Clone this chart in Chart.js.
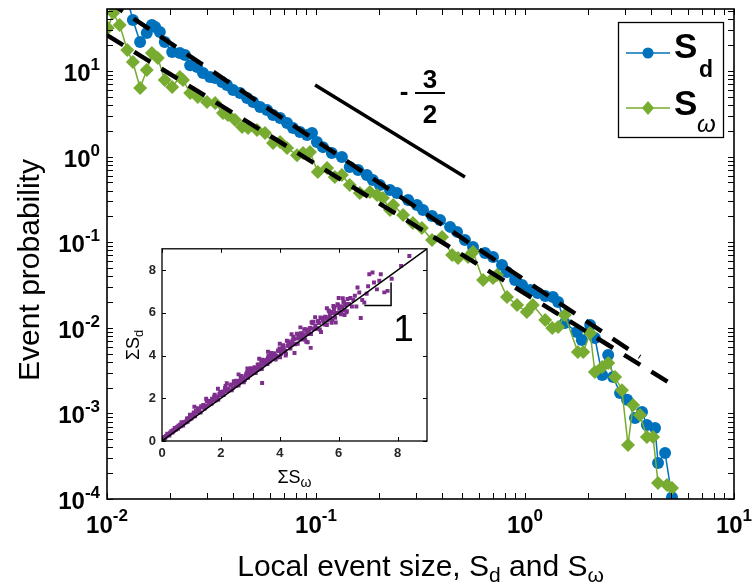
<!DOCTYPE html>
<html>
<head>
<meta charset="utf-8">
<script src="https://cdn.jsdelivr.net/npm/chart.js@4.4.1/dist/chart.umd.min.js"></script>
<style>
  html, body { margin: 0; padding: 0; background: #fff; }
  #wrap { position: relative; width: 754px; height: 586px; }
  #main { position: absolute; left: 0; top: 0; }
  #inset { position: absolute; left: 120px; top: 235px; }
</style>
</head>
<body>
<div id="wrap">
  <canvas id="main" width="754" height="586"></canvas>
  <canvas id="inset" width="320" height="265"></canvas>
</div>
<script>
// S_d (blue circles)
const sdX = [0.0122, 0.0133, 0.0144, 0.0155, 0.0164, 0.0170, 0.0179, 0.0189, 0.0205, 0.0223,
  0.0236, 0.0250, 0.0270, 0.0288, 0.0311, 0.0329, 0.0355, 0.0375, 0.0401, 0.0433,
  0.0468, 0.0500, 0.0540, 0.0583, 0.0623, 0.0673, 0.0727, 0.0776, 0.0838, 0.0906,
  0.0957, 0.101, 0.108, 0.119, 0.133, 0.145, 0.159, 0.175, 0.187, 0.202,
  0.226, 0.244, 0.276, 0.304, 0.325, 0.359, 0.392, 0.438, 0.473, 0.516,
  0.564, 0.644, 0.703, 0.776, 0.820, 0.896, 0.968, 1.06, 1.15, 1.25,
  1.36, 1.44, 1.55, 1.77, 1.87, 2.05, 2.16, 2.34, 2.50, 2.64,
  2.85, 3.08, 3.36, 3.63, 3.83, 4.19, 4.33, 4.68, 5.05];
const sdY = [88, 39.4, 21.8, 27.8, 34.4, 32.7, 28.6, 21.8, 16.7, 16.2,
  15.4, 11.7, 11.1, 9.48, 8.51, 8.28, 7.43, 6.86, 6.0, 5.53,
  4.84, 4.34, 3.80, 3.50, 3.06, 2.82, 2.47, 2.16, 1.94, 1.79,
  1.89, 1.48, 1.29, 1.10, 0.989, 0.757, 0.697, 0.610, 0.533, 0.466,
  0.407, 0.376, 0.311, 0.272, 0.238, 0.202, 0.182, 0.151, 0.132, 0.106,
  0.0879, 0.0748, 0.0671, 0.0542, 0.0449, 0.0361, 0.0316, 0.0277, 0.0255, 0.0235,
  0.0229, 0.0200, 0.0114, 0.00893, 0.00719, 0.0108, 0.0076, 0.00281, 0.00481, 0.00266,
  0.00173, 0.00144, 0.000883, 0.00104, 0.000731, 0.000674, 0.000264, 0.000344, 0.000105];

// S_w (green diamonds)
const swX = [0.0101, 0.0107, 0.0115, 0.0125, 0.0133, 0.0144, 0.0155, 0.0164, 0.0175, 0.0189,
  0.0205, 0.0223, 0.0231, 0.0250, 0.0272, 0.0301, 0.0329, 0.0359, 0.0379, 0.0410,
  0.0443, 0.0473, 0.0522, 0.0570, 0.0623, 0.0673, 0.0727, 0.0811, 0.0867, 0.0936,
  0.102, 0.113, 0.123, 0.133, 0.145, 0.162, 0.181, 0.196, 0.209, 0.226,
  0.234, 0.261, 0.291, 0.321, 0.359, 0.401, 0.448, 0.478, 0.534, 0.564,
  0.630, 0.703, 0.735, 0.820, 0.916, 1.02, 1.09, 1.25, 1.35, 1.44,
  1.55, 1.79, 1.90, 2.05, 2.16, 2.34, 2.50, 2.70, 2.91, 3.11,
  3.29, 3.55, 3.83, 4.10, 4.33, 4.78, 5.05];
const swY = [31.8, 47.6, 34.4, 17.6, 12.7, 6.32, 10.3, 16.2, 14.2, 7.85,
  6.50, 8.51, 7.85, 5.53, 4.97, 4.34, 4.23, 3.23, 3.06, 2.68,
  2.22, 2.16, 2.05, 1.89, 1.44, 1.48, 1.26, 1.04, 1.10, 1.13,
  0.661, 0.736, 0.578, 0.610, 0.466, 0.376, 0.385, 0.356, 0.328, 0.238,
  0.272, 0.208, 0.168, 0.147, 0.106, 0.115, 0.0708, 0.0653, 0.0671, 0.0769,
  0.0361, 0.0382, 0.0414, 0.0229, 0.0185, 0.0153, 0.0185, 0.0123, 0.00995, 0.0102,
  0.0141, 0.00521, 0.0052, 0.00869, 0.00305, 0.00348, 0.00388, 0.00266, 0.00187, 0.000428,
  0.00125, 0.000957, 0.000530, 0.000530, 0.000154, 0.000146, 0.000134];

// power-law guide lines
const fitSdX = [0.01, 3.55];
const fitSdY = [66, 0.00456];
const fitSwX = [0.01, 4.83];
const fitSwY = [26.3, 0.00233];
const slopeX = [0.099, 0.516];
const slopeY = [6.86, 0.578];

// axes ticks
const xTickVals = [0.01, 0.1, 1, 10];
const xTickExp = ["-2", "-1", "0", "1"];
const yTickVals = [1e-4, 1e-3, 1e-2, 1e-1, 1, 10];
const yTickExp = ["-4", "-3", "-2", "-1", "0", "1"];

// inset: sum S_w vs sum S_d
const sumSw = [
  0.03, 0.07, 0.10, 0.14, 0.18, 0.21, 0.25, 0.29, 0.32, 0.36, 0.40, 0.43, 0.47, 0.50, 0.54, 0.58, 0.61, 0.65, 0.69, 0.72,
  0.76, 0.80, 0.83, 0.87, 0.90, 0.94, 0.97, 1.00,
  1.03, 1.08, 1.12, 1.17, 1.22, 1.26, 1.31, 1.35, 1.40, 1.45, 1.49, 1.54, 1.58, 1.63, 1.68, 1.72, 1.77, 1.81, 1.86, 1.91,
  1.95, 2.00, 2.04, 2.09, 2.14, 2.18, 2.23, 2.27, 2.32, 2.37, 2.41, 2.46,
  2.50, 2.55, 2.60, 2.64, 2.69, 2.74, 2.78, 2.83, 2.88, 2.92, 2.97, 3.02, 3.06, 3.11, 3.16, 3.20, 3.25, 3.30, 3.34, 3.39,
  3.44, 3.48, 3.53, 3.58, 3.62, 3.67, 3.72, 3.76, 3.81, 3.86,
  2.52, 2.62, 2.71, 2.81, 2.90, 3.00, 3.09, 3.18, 3.28, 3.37, 3.46, 3.56, 3.65, 3.74, 3.84, 3.93, 3.40,
  3.91, 3.96, 4.01, 4.06, 4.11, 4.16, 4.21, 4.26, 4.31, 4.36, 4.41, 4.46, 4.51, 4.56, 4.61, 4.66, 4.71, 4.76, 4.81, 4.86,
  4.91, 4.96, 5.01, 5.06, 5.11, 5.16, 5.21, 5.26, 5.31, 5.36,
  3.94, 4.04, 4.13, 4.24, 4.33, 4.43, 4.53, 4.63, 4.73, 4.83, 4.93, 5.03, 5.13, 5.23, 5.33, 5.43, 5.48, 5.05, 4.95, 4.50,
  5.52, 5.56, 5.60, 5.64, 5.68, 5.72, 5.76, 5.80, 5.84, 5.88, 5.92, 5.96, 6.00, 6.04, 6.08, 6.12, 6.16, 6.20, 6.24, 6.28,
  5.54, 5.62, 5.70, 5.78, 5.86, 5.94, 6.02, 6.10, 6.18, 6.26, 6.30, 6.35, 6.40, 6.45, 6.50,
  6.55, 6.60, 6.64, 6.70, 6.75, 6.80, 6.87, 6.95, 7.00, 7.04, 7.15, 7.20, 7.30, 7.38, 7.43, 7.55, 7.66, 7.80, 8.12, 8.40,
  0.56, 0.66, 0.74, 0.85, 0.95, 1.06, 1.15, 1.24, 1.33, 1.43, 1.52, 1.61, 1.70, 1.79, 1.89, 1.98, 2.07, 2.16, 2.25, 2.35,
  2.44, 2.54, 2.67, 2.76, 2.86, 2.95, 3.04, 3.14, 3.23, 3.32, 3.42, 3.51, 3.60, 3.70, 3.79, 3.89, 3.99, 4.08, 4.18, 4.28,
  4.38, 4.48, 4.58, 4.68, 4.78, 4.88, 4.98, 5.08, 5.18, 5.28, 5.38, 5.46, 5.58, 5.66, 5.74, 5.82, 5.90, 5.98, 6.06, 6.14,
  6.22, 0.05, 0.12, 0.16, 0.23, 0.27, 0.34, 0.38, 0.45, 0.52,
  1.10, 1.50, 1.90, 2.20, 2.60, 2.90, 3.30, 3.60, 4.00, 4.40, 4.70, 5.20, 5.60, 6.00,
  4.20, 4.90, 5.40, 5.90, 6.20];
const sumSd = [
  0.08, 0.19, 0.12, 0.23, 0.34, 0.28, 0.26, 0.40, 0.46, 0.40, 0.48, 0.61, 0.53, 0.62, 0.57, 0.68, 0.76, 0.69, 0.78, 0.73,
  0.89, 0.87, 0.94, 0.90, 1.07, 1.02, 1.07, 1.05,
  1.13, 1.33, 1.16, 1.35, 1.54, 1.40, 1.33, 1.57, 1.69, 1.52, 1.65, 1.89, 1.70, 1.87, 1.74, 1.92, 2.07, 1.90, 2.04, 1.93,
  2.21, 2.14, 2.26, 2.15, 2.48, 2.33, 2.44, 2.37, 2.60, 2.38, 2.51, 2.71,
  2.57, 2.81, 2.60, 2.81, 3.04, 2.87, 2.75, 3.05, 3.19, 2.96, 3.12, 3.41, 3.16, 3.36, 3.18, 3.40, 3.58, 3.36, 3.52, 3.37,
  3.72, 3.60, 3.76, 3.61, 3.99, 3.81, 3.93, 3.84, 4.11, 3.82,
  2.82, 2.72, 2.95, 2.86, 3.23, 3.16, 3.36, 3.18, 3.48, 3.73, 3.57, 3.81, 3.72, 4.05, 4.02, 3.95, 2.72,
  3.92, 4.21, 3.92, 4.20, 4.48, 4.24, 4.09, 4.46, 4.63, 4.33, 4.52, 4.88, 4.56, 4.80, 4.55, 4.84, 5.05, 4.75, 4.96, 4.75,
  5.19, 5.03, 5.22, 5.01, 5.51, 5.26, 5.40, 5.28, 5.62, 5.22,
  4.24, 4.09, 4.35, 4.69, 4.45, 4.71, 4.53, 4.98, 4.88, 5.23, 5.01, 5.29, 5.59, 5.26, 5.53, 5.76, 5.58, 4.36, 4.62, 4.12,
  5.46, 5.81, 5.43, 5.74, 6.07, 5.76, 5.54, 5.98, 6.17, 5.77, 5.99, 6.41, 5.99, 6.27, 5.94, 6.27, 6.52, 6.13, 6.36, 6.08,
  5.82, 5.64, 5.90, 5.66, 6.28, 5.99, 6.19, 6.06, 6.49, 6.03, 6.65, 6.42, 6.70, 6.30, 6.60,
  6.80, 6.30, 7.19, 6.95, 5.76, 6.60, 6.49, 6.90, 7.25, 7.81, 7.89, 7.42, 7.10, 7.50, 7.81, 6.96, 7.03, 7.60, 8.20, 8.66,
  0.71, 0.88, 0.84, 1.05, 1.23, 1.24, 1.40, 1.36, 1.63, 1.65, 1.87, 1.77, 1.98, 2.17, 2.09, 2.30, 2.32, 2.58, 2.43, 2.65,
  2.80, 2.76, 3.00, 2.91, 3.13, 3.35, 3.24, 3.45, 3.35, 3.58, 3.80, 3.69, 3.90, 4.12, 4.01, 3.99, 4.33, 4.33, 4.23, 4.66,
  4.56, 4.78, 5.02, 4.80, 5.05, 5.23, 5.18, 5.56, 5.26, 5.60, 5.78, 5.68, 5.73, 6.11, 6.04, 6.32, 6.00, 6.36, 6.31, 6.69,
  6.42, 0.12, 0.17, 0.25, 0.29, 0.36, 0.44, 0.50, 0.55, 0.66,
  1.60, 1.98, 2.45, 2.70, 3.12, 3.40, 3.85, 4.18, 4.55, 5.00, 5.32, 5.80, 6.22, 6.70,
  4.00, 4.65, 5.10, 5.55, 5.90];
const unitX = [0, 9];
const unitY = [0, 9];
const triX = [6.87, 7.78, 7.78];
const triY = [6.34, 6.34, 7.42];
const insetTicks = [0, 2, 4, 6, 8];

const BLUE = "#0072BD";
const GREEN = "#77AC30";
const PURPLE = "#7E2F8E";
const FONT = '"Liberation Sans", Arial, Helvetica, sans-serif';

const pts = (xs, ys) => xs.map((x, i) => ({ x: x, y: ys[i] }));

function fontStr(p) {
  return (p.italic ? "italic " : "") + (p.bold ? "bold " : "") + p.size + "px " + FONT;
}

// draw text made of pieces (for super/subscripts)
function drawRich(ctx, parts, x, y, align) {
  let w = 0;
  parts.forEach(p => { ctx.font = fontStr(p); p.w = ctx.measureText(p.t).width; w += p.w; });
  let cx = align === "center" ? x - w / 2 : align === "right" ? x - w : x;
  ctx.textAlign = "left";
  ctx.textBaseline = "alphabetic";
  parts.forEach(p => {
    ctx.font = fontStr(p);
    ctx.fillText(p.t, cx, y + (p.dy || 0));
    cx += p.w;
  });
}

function logSteps(min, max) {
  const out = [];
  for (let e = Math.floor(Math.log10(min)); e <= Math.ceil(Math.log10(max)); e++) {
    for (let k = 1; k < 10; k++) {
      const v = k * Math.pow(10, e);
      if (v >= min * 0.999 && v <= max * 1.001) out.push(v);
    }
  }
  return out;
}

const mainDecor = {
  id: "mainDecor",
  afterDraw(chart) {
    const ctx = chart.ctx;
    const a = chart.chartArea;
    const xs = chart.scales.x, ys = chart.scales.y;
    const TL = 6;
    ctx.save();
    ctx.fillStyle = "#000";
    ctx.strokeStyle = "#000";

    // ticks pointing inwards, all four sides
    ctx.lineWidth = 1;
    ctx.beginPath();
    logSteps(xs.min, xs.max).forEach(v => {
      const px = Math.round(xs.getPixelForValue(v)) + 0.5;
      ctx.moveTo(px, a.bottom); ctx.lineTo(px, a.bottom - TL);
      ctx.moveTo(px, a.top); ctx.lineTo(px, a.top + TL);
    });
    logSteps(ys.min, ys.max).forEach(v => {
      const py = Math.round(ys.getPixelForValue(v)) + 0.5;
      ctx.moveTo(a.left, py); ctx.lineTo(a.left + TL, py);
      ctx.moveTo(a.right, py); ctx.lineTo(a.right - TL, py);
    });
    ctx.stroke();

    // box
    ctx.lineWidth = 1.6;
    ctx.strokeRect(a.left, a.top, a.right - a.left, a.bottom - a.top);

    // tick labels
    xTickVals.forEach((v, i) => {
      const px = xs.getPixelForValue(v);
      drawRich(ctx, [{ t: "10", size: 24, bold: true }, { t: xTickExp[i], size: 17, bold: true, dy: -12 }], px, 533, "center");
    });
    yTickVals.forEach((v, i) => {
      const py = ys.getPixelForValue(v);
      drawRich(ctx, [{ t: "10", size: 24, bold: true }, { t: yTickExp[i], size: 17, bold: true, dy: -11 }], a.left - 7, py + 10, "right");
    });

    // axis titles
    drawRich(ctx, [
      { t: "Local event size, S", size: 30 },
      { t: "d", size: 21, dy: 6 },
      { t: " and S", size: 30 },
      { t: "\u03c9", size: 21, dy: 6 }
    ], (a.left + a.right) / 2, 576, "center");
    ctx.save();
    ctx.translate(39, 270);
    ctx.rotate(-Math.PI / 2);
    drawRich(ctx, [{ t: "Event probability", size: 30 }], 0, 0, "center");
    ctx.restore();

    // slope annotation  - 3/2
    drawRich(ctx, [{ t: "-", size: 26, bold: true }], 404, 100, "center");
    drawRich(ctx, [{ t: "3", size: 26, bold: true }], 430, 88, "center");
    drawRich(ctx, [{ t: "2", size: 26, bold: true }], 430, 123, "center");
    ctx.lineWidth = 2;
    ctx.beginPath(); ctx.moveTo(415, 93); ctx.lineTo(445, 93); ctx.stroke();

    // legend
    ctx.fillStyle = "#fff";
    ctx.fillRect(618, 22, 105, 115);
    ctx.lineWidth = 1.3;
    ctx.strokeStyle = "#000";
    ctx.strokeRect(618.5, 22.5, 105, 115);
    ctx.lineWidth = 1.5;
    ctx.strokeStyle = BLUE;
    ctx.beginPath(); ctx.moveTo(626, 53); ctx.lineTo(670, 53); ctx.stroke();
    ctx.fillStyle = BLUE;
    ctx.beginPath(); ctx.arc(648, 53, 5.5, 0, Math.PI * 2); ctx.fill();
    ctx.strokeStyle = GREEN;
    ctx.beginPath(); ctx.moveTo(626, 108); ctx.lineTo(670, 108); ctx.stroke();
    ctx.fillStyle = GREEN;
    ctx.beginPath();
    ctx.moveTo(648, 101); ctx.lineTo(654, 108); ctx.lineTo(648, 115); ctx.lineTo(642, 108);
    ctx.closePath(); ctx.fill();
    ctx.fillStyle = "#000";
    drawRich(ctx, [{ t: "S", size: 35, bold: true }], 674, 58, "left");
    drawRich(ctx, [{ t: "d", size: 23, bold: true }], 699, 77, "left");
    drawRich(ctx, [{ t: "S", size: 35, bold: true }], 674, 115, "left");
    drawRich(ctx, [{ t: "\u03c9", size: 24, italic: true }], 697, 132, "left");
    ctx.restore();
  }
};

new Chart(document.getElementById("main"), {
  type: "line",
  data: {
    datasets: [
      {
        data: pts(slopeX, slopeY), borderColor: "#000", borderWidth: 3.5,
        pointRadius: 0, order: 0
      },
      {
        data: pts(fitSdX, fitSdY), borderColor: "#000", borderWidth: 4.5,
        borderDash: [19, 13], pointRadius: 0, order: 1
      },
      {
        data: pts(fitSwX, fitSwY), borderColor: "#000", borderWidth: 4.5,
        borderDash: [19, 13], pointRadius: 0, order: 1
      },
      {
        label: "S\u03c9", data: pts(swX, swY), borderColor: GREEN, backgroundColor: GREEN,
        borderWidth: 1.5, pointStyle: "rectRot", pointRadius: 7, pointBorderWidth: 0, order: 2
      },
      {
        label: "Sd", data: pts(sdX, sdY), borderColor: BLUE, backgroundColor: BLUE,
        borderWidth: 1.5, pointStyle: "circle", pointRadius: 6, pointBorderWidth: 0, order: 3
      }
    ]
  },
  options: {
    responsive: false,
    animation: false,
    devicePixelRatio: 1,
    events: [],
    layout: { autoPadding: false, padding: { left: 0, top: 9, right: 20, bottom: 0 } },
    plugins: { legend: { display: false }, tooltip: { enabled: false } },
    scales: {
      x: {
        type: "logarithmic", min: 0.01, max: 10,
        grid: { display: false, drawTicks: false }, border: { display: false },
        ticks: { display: false },
        afterFit: s => { s.height = 87; }
      },
      y: {
        type: "logarithmic", min: 1e-4, max: 53,
        grid: { display: false, drawTicks: false }, border: { display: false },
        ticks: { display: false },
        afterFit: s => { s.width = 107; }
      }
    }
  },
  plugins: [mainDecor]
});

const insetDecor = {
  id: "insetDecor",
  beforeDatasetsDraw(chart) {
    const a = chart.chartArea;
    chart.ctx.save();
    chart.ctx.fillStyle = "#fff";
    chart.ctx.fillRect(a.left, a.top, a.right - a.left, a.bottom - a.top);
    chart.ctx.restore();
  },
  afterDraw(chart) {
    const ctx = chart.ctx;
    const a = chart.chartArea;
    const xs = chart.scales.x, ys = chart.scales.y;
    const TL = 4;
    ctx.save();
    ctx.strokeStyle = "#000";
    ctx.fillStyle = "#000";
    ctx.lineWidth = 1;
    ctx.beginPath();
    insetTicks.forEach(v => {
      const px = Math.round(xs.getPixelForValue(v)) + 0.5;
      ctx.moveTo(px, a.bottom); ctx.lineTo(px, a.bottom - TL);
      ctx.moveTo(px, a.top); ctx.lineTo(px, a.top + TL);
      const py = Math.round(ys.getPixelForValue(v)) + 0.5;
      ctx.moveTo(a.left, py); ctx.lineTo(a.left + TL, py);
      ctx.moveTo(a.right, py); ctx.lineTo(a.right - TL, py);
    });
    ctx.stroke();
    ctx.lineWidth = 1.3;
    ctx.strokeRect(a.left, a.top, a.right - a.left, a.bottom - a.top);

    // axis titles
    drawRich(ctx, [{ t: "\u03a3S", size: 18 }, { t: "\u03c9", size: 14, dy: 4 }], (a.left + a.right) / 2, 248, "center");
    ctx.save();
    ctx.translate(19, (a.top + a.bottom) / 2);
    ctx.rotate(-Math.PI / 2);
    drawRich(ctx, [{ t: "\u03a3S", size: 18 }, { t: "d", size: 13, dy: 4 }], 0, 0, "center");
    ctx.restore();

    // slope "1" label
    drawRich(ctx, [{ t: "1", size: 37 }], xs.getPixelForValue(8.2), ys.getPixelForValue(5.3) + 13, "center");
    ctx.restore();
  }
};

const insetTickFont = { family: FONT, size: 13, weight: "bold" };
new Chart(document.getElementById("inset"), {
  type: "scatter",
  data: {
    datasets: [
      {
        type: "line", data: pts(unitX, unitY), borderColor: "#000", borderWidth: 1.5,
        pointRadius: 0, order: 0
      },
      {
        type: "line", data: pts(triX, triY), borderColor: "#000", borderWidth: 1.5,
        pointRadius: 0, order: 0
      },
      {
        data: pts(sumSw, sumSd), backgroundColor: PURPLE, borderWidth: 0,
        pointStyle: "rect", pointRadius: 2.8, order: 1
      }
    ]
  },
  options: {
    responsive: false,
    animation: false,
    devicePixelRatio: 1,
    events: [],
    layout: { autoPadding: false, padding: { left: 0, top: 12, right: 13, bottom: 0 } },
    plugins: { legend: { display: false }, tooltip: { enabled: false } },
    scales: {
      x: {
        type: "linear", min: 0, max: 9,
        grid: { display: false, drawTicks: false }, border: { display: false },
        ticks: {
          stepSize: 2, includeBounds: false, autoSkip: false, maxRotation: 0,
          padding: 5, color: "#262626", font: insetTickFont,
          callback: v => (insetTicks.includes(v) ? String(v) : "")
        },
        afterFit: s => { s.height = 59; }
      },
      y: {
        type: "linear", min: 0, max: 9,
        grid: { display: false, drawTicks: false }, border: { display: false },
        ticks: {
          stepSize: 2, includeBounds: false, autoSkip: false,
          padding: 6, color: "#262626", font: insetTickFont,
          callback: v => (insetTicks.includes(v) ? String(v) : "")
        },
        afterFit: s => { s.width = 42; }
      }
    }
  },
  plugins: [insetDecor]
});
</script>
</body>
</html>
